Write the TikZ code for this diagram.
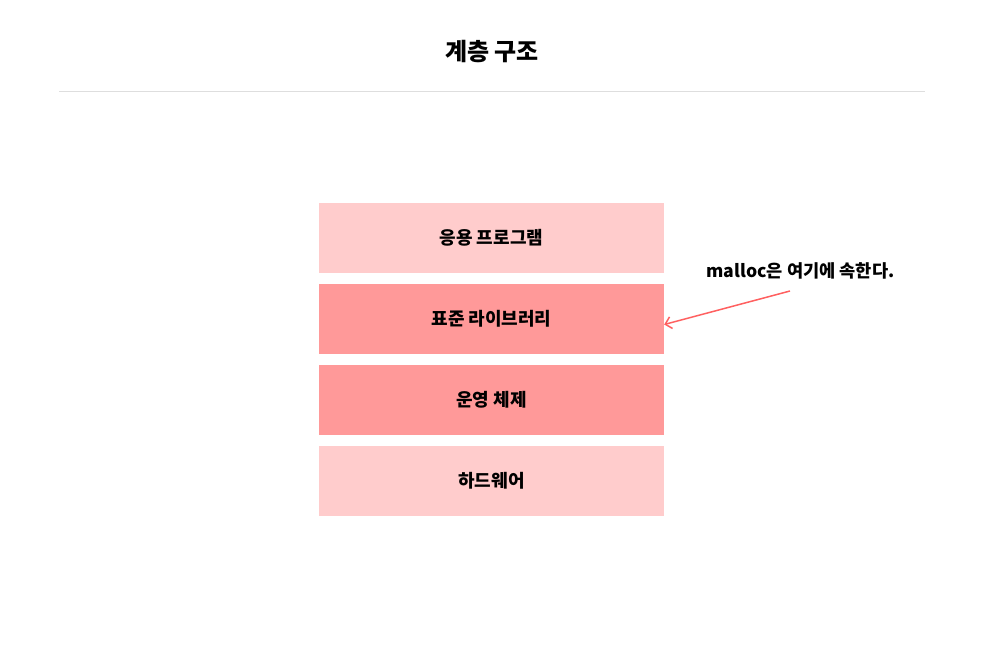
\documentclass[tikz,border=0pt]{standalone}
\usepackage{fontspec}
\setmainfont{Noto Sans CJK KR}
\usepackage{tikz}
\usetikzlibrary{arrows.meta}
\definecolor{layer_light}{RGB}{255,204,204}
\definecolor{layer_dark}{RGB}{255,153,153}
\definecolor{arrow_red}{RGB}{255,96,96}
\definecolor{rule_gray}{RGB}{222,222,222}

\tikzset{
 layer/.style={minimum width=345pt, minimum height=70pt, inner sep=0pt, font=\fontsize{18}{21}\selectfont\bfseries},
}

\begin{document}
\begin{tikzpicture}[x=1pt,y=-1pt]
 \useasboundingbox (0,0) rectangle (984,663);

 \node[font=\fontsize{24}{28}\selectfont\bfseries] (title) at (492,52) {계층 구조};
 \coordinate (RL) at (59,92);
 \coordinate (RR) at (925,92);
 \draw[rule_gray, line width=1pt] (RL) -- (RR);

 \node[layer, fill=layer_light] (app) at (491.5,237.5) {응용 프로그램};
 \node[layer, fill=layer_dark] (lib) at (491.5,318.5) {표준 라이브러리};
 \node[layer, fill=layer_dark] (os) at (491.5,400) {운영 체제};
 \node[layer, fill=layer_light] (hw) at (491.5,480.5) {하드웨어};

 \node[font=\fontsize{17.6}{21}\selectfont\bfseries] (note) at (800.5,271) {malloc은 여기에 속한다.};
 \coordinate (A0) at (790,291);
 \draw[arrow_red, line width=1.5pt, -{Straight Barb[length=6pt,width=12pt]}] (A0) -- ([yshift=-6pt]lib.east);
\end{tikzpicture}
\end{document}
